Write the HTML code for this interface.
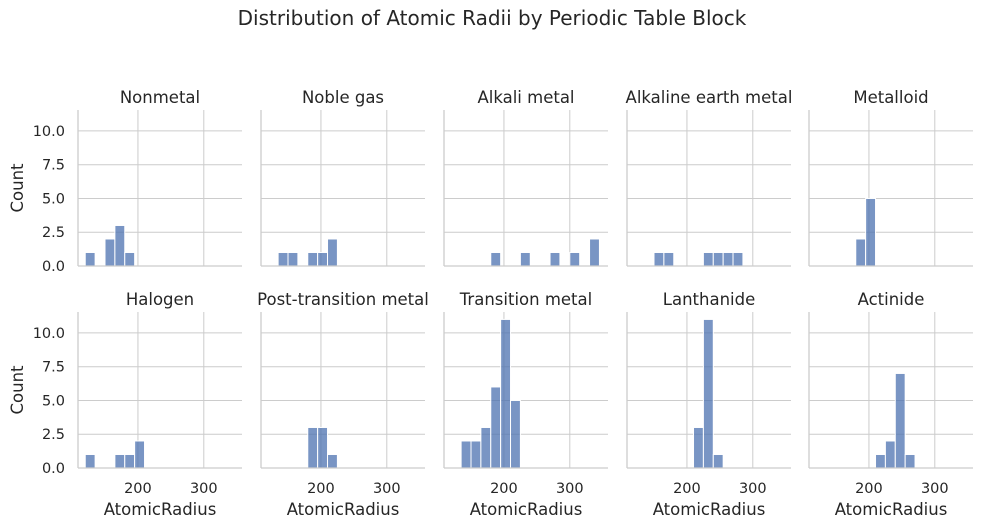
<!DOCTYPE html>
<html><head><meta charset="utf-8"><style>
body{margin:0;background:#fff}
svg text{font-family:"DejaVu Sans","Liberation Sans",sans-serif;fill:#262626}
</style></head><body>
<svg id="c" width="984" height="527" xmlns="http://www.w3.org/2000/svg">
<text x="492" y="25" text-anchor="middle" font-size="20">Distribution of Atomic Radii by Periodic Table Block</text>
</svg>
<script>
const panelNames=["Nonmetal","Noble gas","Alkali metal","Alkaline earth metal","Metalloid","Halogen","Post-transition metal","Transition metal","Lanthanide","Actinide"];
const binStart=120, binWidth=15;
const counts=[
[1,0,2,3,1],
[0,1,1,0,1,1,2],
[0,0,0,0,1,0,0,1,0,0,1,0,1,0,2],
[0,0,1,1,0,0,0,1,1,1,1],
[0,0,0,0,2,5],
[1,0,0,1,1,2],
[0,0,0,0,3,3,1],
[0,2,2,3,6,11,5],
[0,0,0,0,0,0,3,11,1],
[0,0,0,0,0,0,1,2,7,1]
];
const xTicks=[200,300];
const yTicks=[0,2.5,5,7.5,10];
const yTickLabels=["0.0","2.5","5.0","7.5","10.0"];
const xMin=109,xMax=358,yMax=11.55;
const NS="http://www.w3.org/2000/svg";
const svg=document.getElementById('c');
function mk(t,a,p){const e=document.createElementNS(NS,t);for(const k in a)e.setAttribute(k,a[k]);(p||svg).appendChild(e);return e;}
const lefts=[78,261,444,627,809],W=164,tops=[110,312],H=156;
panelNames.forEach((name,i)=>{
 const r=Math.floor(i/5),c=i%5,L=lefts[c],T=tops[r];
 const g=mk('g',{});
 
 
 const sx=v=>L+(v-xMin)/(xMax-xMin)*W, sy=v=>T+H-v/yMax*H;
 yTicks.forEach((t,j)=>{
  const l=mk('line',{x1:L,x2:L+W,y1:sy(t),y2:sy(t),stroke:'#cccccc','stroke-width':1},g);
  
  if(c===0){const tx=mk('text',{x:L-13,y:sy(t)+5,'text-anchor':'end','font-size':14.5},g);tx.textContent=yTickLabels[j];
   }
 });
 xTicks.forEach(t=>{
  const l=mk('line',{x1:sx(t),x2:sx(t),y1:T,y2:T+H,stroke:'#cccccc','stroke-width':1},g);
  
  if(r===1){const tx=mk('text',{x:sx(t),y:T+H+25,'text-anchor':'middle','font-size':14.5},g);tx.textContent=t;
   }
 });
 counts[i].forEach((v,k)=>{
  if(!v)return;
  const x0=sx(binStart+k*binWidth),x1=sx(binStart+(k+1)*binWidth);
  const b=mk('rect',{x:x0,y:sy(v),width:x1-x0,height:sy(0)-sy(v),fill:'#4c72b0','fill-opacity':0.75,stroke:'#fff','stroke-width':1},g);
  
 });
 const s1=mk('line',{x1:L,x2:L,y1:T,y2:T+H,stroke:'#cccccc','stroke-width':1.3},g);
 
 const s2=mk('line',{x1:L,x2:L+W,y1:T+H,y2:T+H,stroke:'#cccccc','stroke-width':1.3},g);
 
 const tt=mk('text',{x:L+W/2,y:T-7,'text-anchor':'middle','font-size':16.5},g);tt.textContent=name;
 
 if(c===0){const yl=mk('text',{x:0,y:0,'text-anchor':'middle','font-size':16.5,transform:`translate(23,${T+H/2}) rotate(-90)`},g);yl.textContent='Count';
  }
 if(r===1){const xl=mk('text',{x:L+W/2,y:T+H+47,'text-anchor':'middle','font-size':16.5},g);xl.textContent='AtomicRadius';
  }
});
</script>
</body></html>
